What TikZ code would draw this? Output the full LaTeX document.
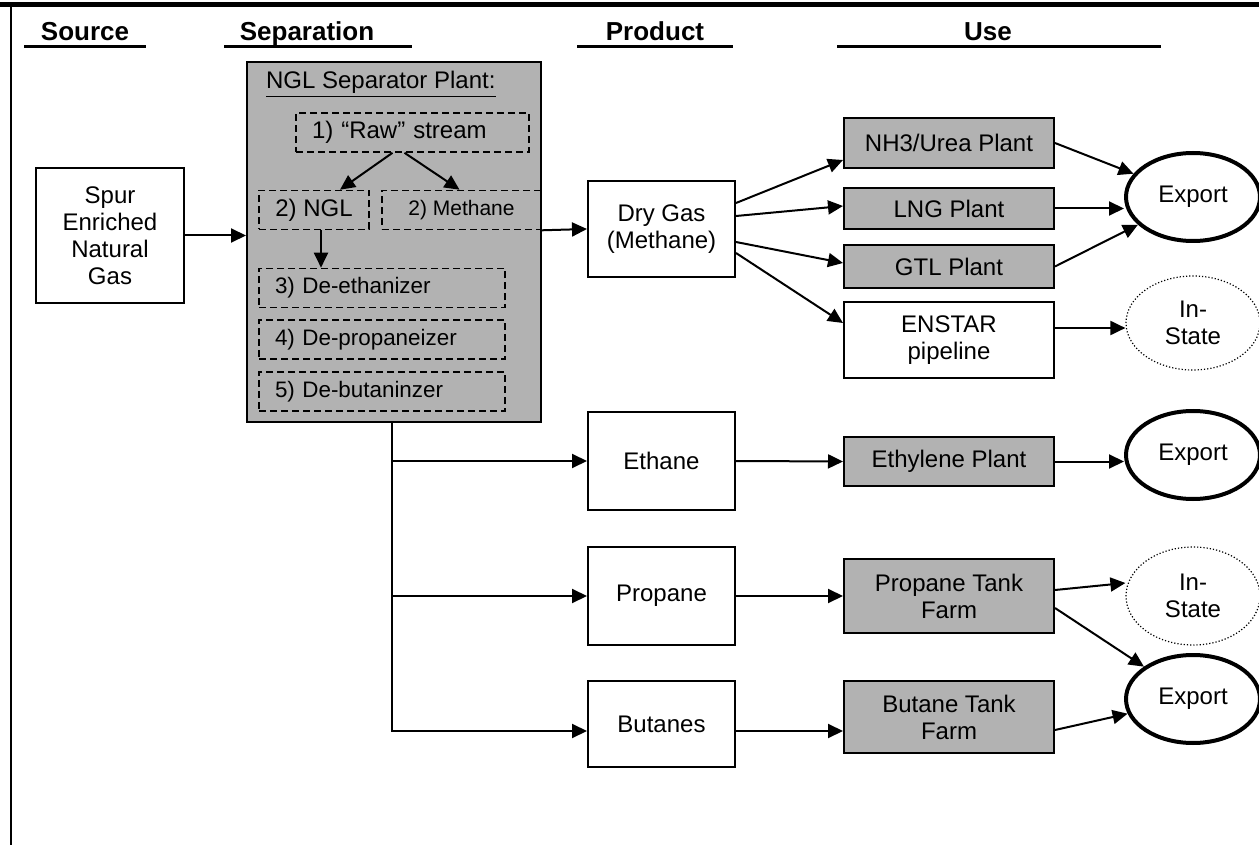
\documentclass[tikz,border=0pt]{standalone}
\usepackage{fontspec}
\setmainfont{Liberation Sans}
\usetikzlibrary{arrows.meta,shapes.geometric}
\colorlet{plantgray}{black!30}

\begin{document}
\begin{tikzpicture}[x=0.5pt,y=-0.5pt,
    every node/.style={font=\fontsize{12}{13.5}\selectfont},
    flow/.style={-{Triangle[length=7.5pt,width=7pt]},line width=1pt},
    srcbox/.style={draw,line width=1pt,fill=white,align=center,minimum width=74pt,inner sep=1pt},
    prodbox/.style={draw,line width=1pt,fill=white,align=center,minimum width=73.5pt,inner sep=1pt},
    usebox/.style={draw,line width=1pt,fill=plantgray,align=center,minimum width=105pt,inner sep=1pt},
    stepbox/.style={draw,line width=0.8pt,dash pattern=on 3.5pt off 2pt,inner sep=0pt,minimum height=19.5pt},
    stagebox/.style={stepbox,minimum width=123pt,text width=107pt,align=left,font=\fontsize{11.2}{13}\selectfont},
    export/.style={ellipse,draw,line width=2pt,minimum width=67pt,minimum height=44pt,inner sep=0pt},
    instate/.style={ellipse,draw,densely dotted,line width=0.6pt,minimum width=67pt,minimum height=47pt,inner sep=0pt,align=center}]
        \useasboundingbox (0,0) rectangle (1259,845);
        % frame
        \draw[line width=2.5pt] (0,5) -- (1259,5);
        \draw[line width=1.25pt] (11,5) -- (11,845);
        % column heads
        \foreach \t/\c/\a/\b in {Source/85/24/146,Separation/307/224/412,Product/655/577/733,Use/988/837/1161}{
            \node[anchor=base,font=\fontsize{13}{15}\selectfont\bfseries] (head\t) at (\c,41) {\t};
            \draw[line width=1.5pt] (\a,47) -- (\b,47);
        }
        % source
        \node[srcbox,minimum height=67.5pt] (spur) at (110,235.5) {Spur\\Enriched\\Natural\\Gas};
        % separation plant
        \node[draw,line width=1pt,fill=plantgray,minimum width=147pt,minimum height=180pt] (plant) at (394,242) {};
        \node[anchor=west] (plantname) at (259,84) {\underline{NGL Separator Plant:}};
        \node[stepbox,minimum width=116.5pt,text width=100.5pt,align=left] (raw) at (412.5,132.5) {1) “Raw” stream};
        \node[stepbox,minimum width=55pt] (ngl) at (314,210) {2) NGL};
        \node[stepbox,minimum width=79.5pt,font=\fontsize{10.5}{12}\selectfont] (meth) at (461.5,210) {2) Methane};
        \node[stagebox] (deeth) at (382,288) {3) De-ethanizer};
        \node[stagebox] (deprop) at (382,339.5) {4) De-propaneizer};
        \node[stagebox] (debut) at (382,391.5) {5) De-butaninzer};
        \draw[flow] ([xshift=-10pt]raw.south) -- ([xshift=13pt]ngl.north);
        \draw[flow] ([xshift=-4pt]raw.south) -- ([xshift=-1pt]meth.north);
        \draw[flow] ([xshift=3.5pt]ngl.south) -- ([xshift=3.5pt]ngl.south |- deeth.north);
        \draw[flow] (spur.east) -- (spur.east -| plant.west);
        % products
        \node[prodbox,minimum height=48pt] (drygas) at (661.5,229) {Dry Gas\\(Methane)};
        \node[prodbox,minimum height=49pt] (ethane) at (661.5,461) {Ethane};
        \node[prodbox,minimum height=49pt] (propane) at (661.5,596) {Propane};
        \node[prodbox,minimum height=43pt] (butanes) at (661.5,724) {Butanes};
        \draw[flow] (meth.south east) -- (drygas.west);
        \coordinate (trunk) at ([xshift=-1pt]plant.south);
        \draw[flow] (trunk) |- ([yshift=-3.5pt]butanes.west);
        \draw[flow] (trunk |- ethane.west) -- (ethane.west);
        \draw[flow] (trunk |- propane.west) -- (propane.west);
        % uses
        \node[usebox,minimum height=25pt] (nh3) at (949,143) {NH3/Urea Plant};
        \node[usebox,minimum height=20.5pt] (lng) at (949,208.5) {LNG Plant};
        \node[usebox,minimum height=21.5pt] (gtl) at (949,266.5) {GTL Plant};
        \node[usebox,fill=white,minimum height=38pt] (enstar) at (949,340) {ENSTAR\\pipeline};
        \node[usebox,minimum height=24.5pt] (ethyl) at (949,461.5) {Ethylene Plant};
        \node[usebox,minimum height=37pt] (ptf) at (949,596) {Propane Tank\\Farm};
        \node[usebox,minimum height=36pt] (btf) at (949,717) {Butane Tank\\Farm};
        \draw[flow] ([yshift=13pt]drygas.east) -- ([yshift=-8.5pt]nh3.west);
        \draw[flow] ([yshift=6.5pt]drygas.east) -- ([yshift=1.25pt]lng.west);
        \draw[flow] ([yshift=-6.5pt]drygas.east) -- ([yshift=1.75pt]gtl.west);
        \draw[flow] ([yshift=-12pt]drygas.east) -- ([yshift=8.5pt]enstar.west);
        \draw[flow] (ethane.east) -- (ethyl.west);
        \draw[flow] (propane.east) -- (ptf.west);
        \draw[flow] ([yshift=-3.5pt]butanes.east) -- ([yshift=-3.5pt]butanes.east -| btf.west);
        % destinations
        \node[export] (exp1) at (1193,197) {Export};
        \node[instate] (inst1) at (1193,323) {In-\\State};
        \node[export] (exp2) at (1193,455) {Export};
        \node[instate,minimum height=49pt] (inst2) at (1193,596) {In-\\State};
        \node[export] (exp3) at (1193,699) {Export};
        \draw[flow] (nh3.east) -- (exp1);
        \draw[flow] (lng.east) -- (lng.east -| exp1.west);
        \draw[flow] (gtl.east) -- (exp1);
        \draw[flow] ([yshift=6pt]enstar.east) -- ([yshift=6pt]enstar.east -| inst1.west);
        \draw[flow] (ethyl.east) -- (ethyl.east -| exp2.west);
        \draw[flow] ([yshift=3pt]ptf.east) -- ([yshift=6.5pt]inst2.west);
        \draw[flow] ([yshift=-6pt]ptf.east) -- (exp3);
        \draw[flow] ([yshift=-6.5pt]btf.east) -- (exp3);
    \end{tikzpicture}
\end{document}
